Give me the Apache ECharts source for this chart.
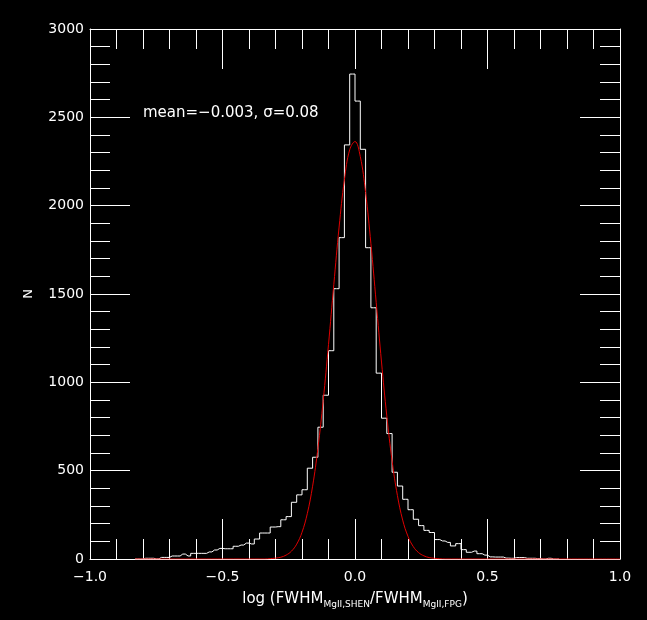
<!DOCTYPE html>
<html>
<head>
<meta charset="utf-8">
<script src="https://cdn.jsdelivr.net/npm/echarts@6/dist/echarts.min.js"></script>
<style>
html,body{margin:0;padding:0;background:#000;}
#chart{width:647px;height:620px;}
</style>
</head>
<body>
<div id="chart"></div>
<script>
// Histogram: bin centres start at -0.83, width 0.02
const binFirstCenter = -0.83;
const binWidth = 0.02;
const counts = [
  0, 0, 4, 4, 1, 9, 9, 17, 17, 28,
  17, 32, 32, 32, 40, 51, 60, 58, 58, 72,
  79, 90, 85, 113, 147, 147, 181, 183, 222, 240,
  321, 363, 392, 514, 576, 746, 927, 1179, 1530, 1819,
  2344, 2745, 2592, 2319, 1762, 1422, 1052, 797, 710, 491,
  413, 338, 279, 225, 189, 162, 150, 110, 102, 94,
  74, 87, 53, 38, 45, 30, 22, 12, 11, 11,
  5, 4, 8, 8, 4, 4, 2, 0, 4, 0, 0
];
// Red fitted curve
const fitX = [-0.83, -0.34, -0.32, -0.30, -0.28, -0.26, -0.24, -0.22, -0.20, -0.18, -0.16, -0.14, -0.12, -0.10, -0.08, -0.06, -0.04, -0.02, 0.00,
  0.02, 0.04, 0.06, 0.08, 0.10, 0.12, 0.14, 0.16, 0.18, 0.20, 0.22, 0.24, 0.26, 0.28, 0.30, 0.32, 0.34, 1.0];
const fitY = [0, 0, 2, 5, 10, 22, 44, 84, 151, 257, 412, 626, 897, 1214, 1553, 1879, 2146, 2317, 2363,
  2278, 2075, 1785, 1452, 1115, 810, 555, 360, 220, 128, 70, 36, 18, 8, 4, 1.5, 0, 0];
const xTicks = [-1.0, -0.5, 0.0, 0.5, 1.0];
const yTicks = [0, 500, 1000, 1500, 2000, 2500, 3000];
const annotation = 'mean=\u22120.003, \u03c3=0.08';

const histData = counts.map((c, i) => [+(binFirstCenter + i * binWidth).toFixed(2), c]);
const fitData = fitX.map((x, i) => [x, fitY[i]]);

const FONT = 'DejaVu Sans';
const chart = echarts.init(document.getElementById('chart'), null, {renderer: 'canvas'});
function axisCommon() {
  return {
    axisLine: {show: true, onZero: false, lineStyle: {color: '#fff', width: 1}},
    axisTick: {show: true, inside: true, length: 40, lineStyle: {color: '#fff', width: 1}},
    minorTick: {show: true, splitNumber: 5, length: 20, lineStyle: {color: '#fff', width: 1}},
    splitLine: {show: false}
  };
}
chart.setOption({
  backgroundColor: '#000',
  animation: false,
  grid: {left: 90, right: 27, top: 29, bottom: 61, containLabel: false},
  xAxis: [
    Object.assign({
      type: 'value', position: 'bottom', min: xTicks[0], max: xTicks[xTicks.length - 1], interval: 0.5,
      axisLabel: {color: '#fff', fontFamily: FONT, fontSize: 14, margin: 11,
        formatter: v => v.toFixed(1).replace('-', '\u2212')},
      name: '{n|log (FWHM}{s|MgII,SHEN}{n|/FWHM}{s|MgII,FPG}{n|)}',
      nameLocation: 'middle', nameGap: 30,
      nameTextStyle: {
        color: '#fff',
        rich: {
          n: {fontFamily: FONT, fontSize: 15, color: '#fff', lineHeight: 20, verticalAlign: 'middle'},
          s: {fontFamily: FONT, fontSize: 9, color: '#fff', lineHeight: 12, verticalAlign: 'bottom'}
        }
      }
    }, axisCommon()),
    Object.assign({
      type: 'value', position: 'top', min: xTicks[0], max: xTicks[xTicks.length - 1], interval: 0.5,
      axisLabel: {show: false}
    }, axisCommon())
  ],
  yAxis: [
    Object.assign({
      type: 'value', position: 'left', min: yTicks[0], max: yTicks[yTicks.length - 1], interval: 500,
      axisLabel: {color: '#fff', fontFamily: FONT, fontSize: 14, margin: 6, formatter: v => String(v)},
      name: 'N', nameLocation: 'middle', nameGap: 55,
      nameTextStyle: {color: '#fff', fontFamily: FONT, fontSize: 13}
    }, axisCommon()),
    Object.assign({
      type: 'value', position: 'right', min: yTicks[0], max: yTicks[yTicks.length - 1], interval: 500,
      axisLabel: {show: false}
    }, axisCommon())
  ],
  graphic: [{
    type: 'text', left: 143, top: 106,
    style: {text: annotation, fill: '#fff', font: '15px "DejaVu Sans"'}
  }],
  series: [
    {
      type: 'line', xAxisIndex: 0, yAxisIndex: 0, data: histData, step: 'middle', showSymbol: false, symbol: 'none',
      lineStyle: {color: '#fff', width: 1}, z: 2
    },
    {
      type: 'line', xAxisIndex: 0, yAxisIndex: 0, data: fitData, smooth: 0.4, showSymbol: false, symbol: 'none',
      lineStyle: {color: '#e00000', width: 1}, z: 3
    }
  ]
});
</script>
</body>
</html>
